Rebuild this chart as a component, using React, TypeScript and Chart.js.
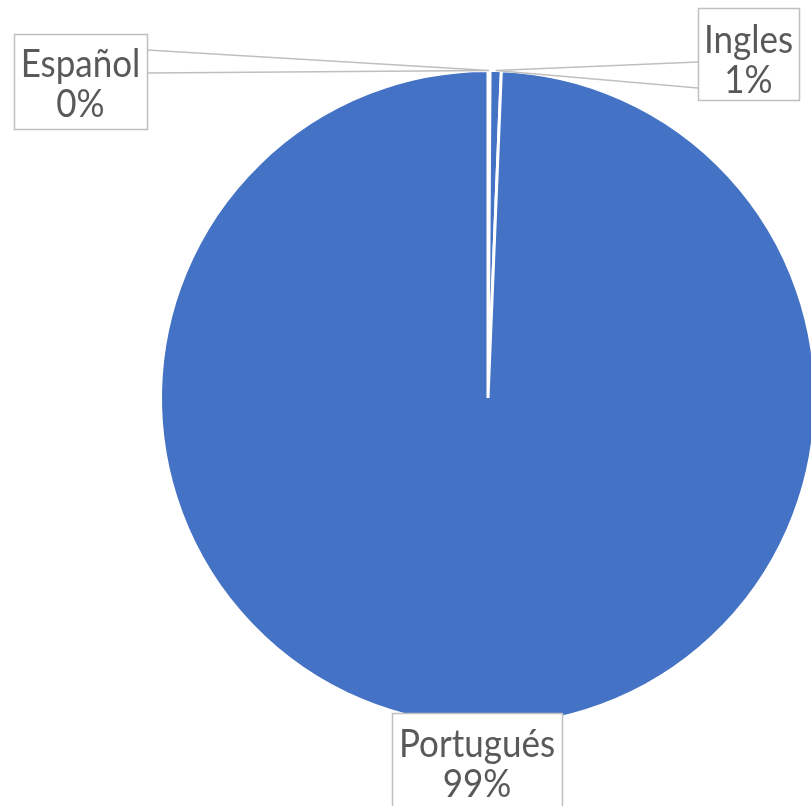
import React, { useEffect, useRef } from "react";
import { Chart, registerables } from "chart.js";

Chart.register(...registerables);

const categories = ["Español", "Ingles", "Portugués"];
const values = [0.1, 0.55, 99.35];

// label box layout (pixels) - position only
const labelBoxes = [
  { x: 14, y: 34, w: 133, h: 95, side: "right", base: 43 },
  { x: 698, y: 8, w: 101, h: 92, side: "left", base: 45 },
  { x: 392, y: 713, w: 170, h: 110, side: "none", base: 44 },
];

const W = 830;
const H = 806;

const calloutPlugin = {
  id: "callouts",
  afterDatasetsDraw(chart: any) {
    const ctx = chart.ctx;
    const meta = chart.getDatasetMeta(0);
    const data = chart.data.datasets[0].data as number[];
    const total = data.reduce((a, b) => a + b, 0);
    ctx.save();
    meta.data.forEach((arc: any, i: number) => {
      const b = labelBoxes[i];
      const p = arc.getProps(["x", "y", "startAngle", "endAngle", "outerRadius"], true);
      const mid = (p.startAngle + p.endAngle) / 2;
      const ax = p.x + Math.cos(mid) * p.outerRadius;
      const ay = p.y + Math.sin(mid) * p.outerRadius;
      ctx.strokeStyle = "#BFBFBF";
      ctx.lineWidth = 1.5;
      if (b.side === "right") {
        const ex = b.x + b.w;
        ctx.beginPath();
        ctx.moveTo(ex, b.y + 16);
        ctx.lineTo(ax, ay);
        ctx.lineTo(ex, b.y + 39);
        ctx.stroke();
      } else if (b.side === "left") {
        ctx.beginPath();
        ctx.moveTo(b.x, b.y + 54);
        ctx.lineTo(ax, ay);
        ctx.lineTo(b.x, b.y + 80);
        ctx.stroke();
      }
      ctx.fillStyle = "#FFFFFF";
      ctx.fillRect(b.x, b.y, b.w, b.h);
      ctx.strokeRect(b.x + 0.5, b.y + 0.5, b.w, b.h);
      const pct = Math.round((data[i] / total) * 100) + "%";
      ctx.fillStyle = "#595959";
      ctx.font = "35px Lato";
      ctx.textAlign = "center";
      ctx.textBaseline = "alphabetic";
      const cx = b.x + b.w / 2;
      const lines = [chart.data.labels[i], pct];
      lines.forEach((t: string, k: number) => {
        const by = b.y + b.base + k * 40;
        ctx.save();
        ctx.translate(cx, by);
        ctx.scale(1, 1.1);
        ctx.fillText(t, 0, 0);
        ctx.restore();
      });
    });
    ctx.restore();
  },
};

export default function App() {
  const ref = useRef<HTMLCanvasElement>(null);
  useEffect(() => {
    document.body.style.margin = "0";
    const chart = new Chart(ref.current!, {
      type: "pie",
      data: {
        labels: categories,
        datasets: [
          {
            data: values,
            backgroundColor: "#4472C4",
            borderColor: "#FFFFFF",
            borderWidth: 3,
          },
        ],
      },
      options: {
        responsive: false,
        animation: false,
        layout: { padding: { left: 159, right: W - 817, top: 69, bottom: H - 727 } },
        plugins: { legend: { display: false }, tooltip: { enabled: false } },
      },
      plugins: [calloutPlugin],
    });
    return () => chart.destroy();
  }, []);
  return (
    <div style={{ width: 811, height: 806, overflow: "hidden", position: "relative" }}>
      <canvas ref={ref} width={W} height={H} style={{ width: W, height: H, display: "block" }} />
    </div>
  );
}
